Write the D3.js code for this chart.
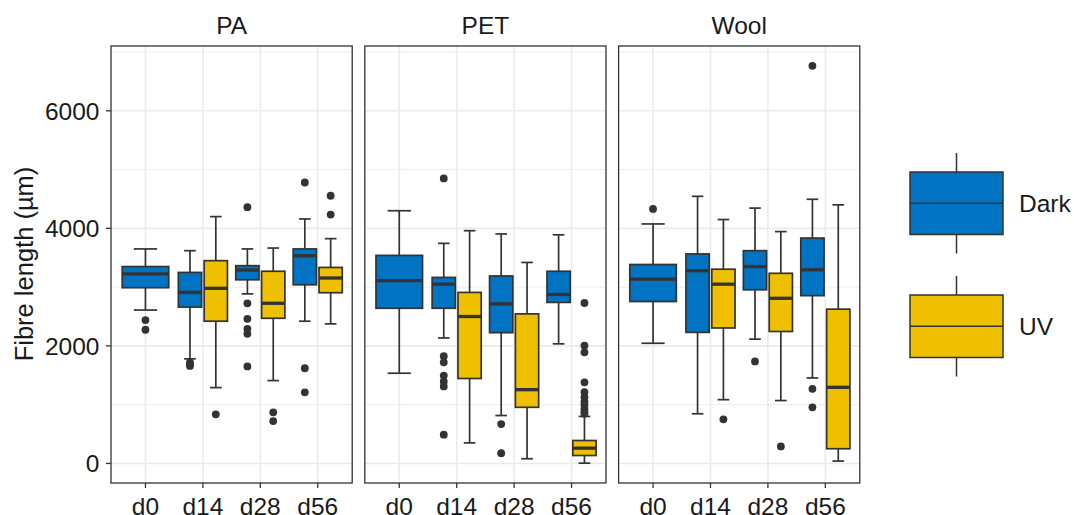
<!DOCTYPE html>
<html>
<head>
<meta charset="utf-8">
<script src="https://cdn.jsdelivr.net/npm/d3@7/dist/d3.min.js"></script>
<style>
  body { margin: 0; background: #fff; }
  svg { display: block; font-family: "Liberation Sans", Arial, sans-serif; }
</style>
</head>
<body>
<svg id="chart" width="1074" height="515"></svg>
<script>
var materials = ["PA", "PET", "Wool"];
var days = ["d0", "d14", "d28", "d56"];
var conditions = ["Dark", "UV"];
var colours = ["#0073C2", "#EFC000"];
var yMajor = [0, 2000, 4000, 6000];
var yMinor = [1000, 3000, 5000, 7000];

// [material, day, condition, lower whisker, q1, median, q3, upper whisker]
var boxStats = [
  ["PA", "d0", "Dark", 2610, 2990, 3225, 3350, 3650],
  ["PA", "d14", "Dark", 1780, 2660, 2910, 3250, 3620],
  ["PA", "d14", "UV", 1290, 2420, 2980, 3450, 4200],
  ["PA", "d28", "Dark", 2885, 3125, 3290, 3365, 3650],
  ["PA", "d28", "UV", 1410, 2470, 2725, 3270, 3665],
  ["PA", "d56", "Dark", 2420, 3040, 3535, 3650, 4160],
  ["PA", "d56", "UV", 2375, 2905, 3155, 3335, 3825],
  ["PET", "d0", "Dark", 1535, 2640, 3110, 3540, 4300],
  ["PET", "d14", "Dark", 2135, 2640, 3050, 3165, 3745],
  ["PET", "d14", "UV", 350, 1445, 2500, 2910, 3960],
  ["PET", "d28", "Dark", 815, 2225, 2715, 3190, 3905],
  ["PET", "d28", "UV", 80, 955, 1255, 2545, 3420],
  ["PET", "d56", "Dark", 2035, 2740, 2875, 3270, 3890],
  ["PET", "d56", "UV", 5, 135, 260, 390, 800],
  ["Wool", "d0", "Dark", 2045, 2755, 3135, 3385, 4075],
  ["Wool", "d14", "Dark", 845, 2230, 3280, 3565, 4545],
  ["Wool", "d14", "UV", 1085, 2305, 3050, 3305, 4150],
  ["Wool", "d28", "Dark", 2115, 2955, 3350, 3620, 4345],
  ["Wool", "d28", "UV", 1070, 2245, 2810, 3235, 3945],
  ["Wool", "d56", "Dark", 1455, 2855, 3295, 3835, 4495],
  ["Wool", "d56", "UV", 40, 250, 1295, 2625, 4400]
];

// [material, day, condition, outlier values]
var outliers = [
  ["PA", "d0", "Dark", [2440, 2275]],
  ["PA", "d14", "Dark", [1720, 1690, 1660]],
  ["PA", "d14", "UV", [835]],
  ["PA", "d28", "Dark", [4360, 2725, 2460, 2290, 2205, 1650]],
  ["PA", "d28", "UV", [870, 720]],
  ["PA", "d56", "Dark", [4780, 1620, 1210]],
  ["PA", "d56", "UV", [4555, 4235]],
  ["PET", "d14", "Dark", [4850, 1825, 1720, 1495, 1395, 1310, 490]],
  ["PET", "d28", "Dark", [670, 175]],
  ["PET", "d56", "UV", [2730, 2005, 1890, 1380, 1215, 1130, 1050, 1000, 930, 880, 845]],
  ["Wool", "d0", "Dark", [4330]],
  ["Wool", "d14", "UV", [750]],
  ["Wool", "d28", "Dark", [1735]],
  ["Wool", "d28", "UV", [290]],
  ["Wool", "d56", "Dark", [6765, 1270, 955]]
];

var svg = d3.select("#chart");
var panelLeft = 111;
var panelW = 241.2;
var panelGap = 12.6;
var panelTop = 46;
var panelBottom = 483;
var ink = "#333333";
var grid = "#EBEBEB";
var fs = 24.5;

// y range from data with 5% expansion, like ggplot
var allVals = [];
boxStats.forEach(function (b) { allVals.push(b[3], b[7]); });
outliers.forEach(function (o) { allVals = allVals.concat(o[3]); });
var lo = d3.min(allVals), hi = d3.max(allVals);
var pad = (hi - lo) * 0.05;
var y = d3.scaleLinear().domain([lo - pad, hi + pad]).range([panelBottom, panelTop]);

var x = d3.scaleLinear().domain([-0.6, days.length - 0.4]).range([0, panelW]);
var step = x(1) - x(0);

function tr(a, b) {
  return "translate(" + a + "," + b + ")";
}

function condCount(mat, day) {
  return boxStats.filter(function (b) { return b[0] === mat && b[1] === day; }).length;
}

function boxGeom(mat, day, cond) {
  var n = condCount(mat, day);
  var c = x(days.indexOf(day));
  if (n === 1) return { cx: c, w: 0.81 * step };
  var off = cond === "Dark" ? -0.225 : 0.225;
  return { cx: c + off * step, w: 0.405 * step };
}

materials.forEach(function (mat, mi) {
  var px = panelLeft + mi * (panelW + panelGap);
  var g = svg.append("g").attr("transform", tr(px, 0));

  // grid
  g.selectAll(".minor").data(yMinor).enter().append("line")
    .attr("x1", 0).attr("x2", panelW)
    .attr("y1", function (d) { return y(d); }).attr("y2", function (d) { return y(d); })
    .attr("stroke", grid).attr("stroke-width", 0.9);
  g.selectAll(".major").data(yMajor).enter().append("line")
    .attr("x1", 0).attr("x2", panelW)
    .attr("y1", function (d) { return y(d); }).attr("y2", function (d) { return y(d); })
    .attr("stroke", grid).attr("stroke-width", 1.6);
  g.selectAll(".vgrid").data(days).enter().append("line")
    .attr("x1", function (d, i) { return x(i); }).attr("x2", function (d, i) { return x(i); })
    .attr("y1", panelTop).attr("y2", panelBottom)
    .attr("stroke", grid).attr("stroke-width", 1.6);

  var rows = boxStats.filter(function (b) { return b[0] === mat; });
  rows.forEach(function (b) {
    var geo = boxGeom(b[0], b[1], b[2]);
    var col = colours[conditions.indexOf(b[2])];
    var bg = g.append("g");
    var cap = geo.w / 2;
    // whiskers + caps
    bg.append("line").attr("x1", geo.cx).attr("x2", geo.cx)
      .attr("y1", y(b[3])).attr("y2", y(b[4])).attr("stroke", ink).attr("stroke-width", 1.7);
    bg.append("line").attr("x1", geo.cx).attr("x2", geo.cx)
      .attr("y1", y(b[6])).attr("y2", y(b[7])).attr("stroke", ink).attr("stroke-width", 1.7);
    [b[3], b[7]].forEach(function (v) {
      bg.append("line").attr("x1", geo.cx - cap / 2).attr("x2", geo.cx + cap / 2)
        .attr("y1", y(v)).attr("y2", y(v)).attr("stroke", ink).attr("stroke-width", 1.7);
    });
    bg.append("rect")
      .attr("x", geo.cx - geo.w / 2).attr("width", geo.w)
      .attr("y", y(b[6])).attr("height", y(b[4]) - y(b[6]))
      .attr("fill", col).attr("stroke", ink).attr("stroke-width", 1.7);
    bg.append("line").attr("x1", geo.cx - geo.w / 2).attr("x2", geo.cx + geo.w / 2)
      .attr("y1", y(b[5])).attr("y2", y(b[5])).attr("stroke", ink).attr("stroke-width", 3.3);
  });

  outliers.filter(function (o) { return o[0] === mat; }).forEach(function (o) {
    var geo = boxGeom(o[0], o[1], o[2]);
    g.selectAll(null).data(o[3]).enter().append("circle")
      .attr("cx", geo.cx).attr("cy", function (d) { return y(d); })
      .attr("r", 3.9).attr("fill", ink);
  });

  // border
  g.append("rect").attr("x", 0).attr("y", panelTop).attr("width", panelW)
    .attr("height", panelBottom - panelTop).attr("fill", "none")
    .attr("stroke", ink).attr("stroke-width", 1.3);

  // strip title
  g.append("text").attr("x", panelW / 2).attr("y", 33.5)
    .attr("text-anchor", "middle").attr("font-size", fs).attr("fill", "#1a1a1a").text(mat);

  // x axis
  var xa = g.append("g").attr("transform", tr(0, panelBottom));
  xa.selectAll("line").data(days).enter().append("line")
    .attr("x1", function (d, i) { return x(i); }).attr("x2", function (d, i) { return x(i); })
    .attr("y1", 0).attr("y2", 5).attr("stroke", ink).attr("stroke-width", 1.3);
  xa.selectAll("text").data(days).enter().append("text")
    .attr("x", function (d, i) { return x(i); }).attr("y", 31.5)
    .attr("text-anchor", "middle").attr("font-size", fs).attr("fill", "#1a1a1a")
    .text(function (d) { return d; });
});

// y axis on first panel
var ya = svg.append("g").attr("transform", tr(panelLeft, 0));
ya.selectAll("line").data(yMajor).enter().append("line")
  .attr("x1", -5).attr("x2", 0)
  .attr("y1", function (d) { return y(d); }).attr("y2", function (d) { return y(d); })
  .attr("stroke", ink).attr("stroke-width", 1.3);
ya.selectAll("text").data(yMajor).enter().append("text")
  .attr("x", -11.5).attr("y", function (d) { return y(d); }).attr("dy", "0.36em")
  .attr("text-anchor", "end").attr("font-size", fs).attr("fill", "#1a1a1a")
  .text(function (d) { return d; });

svg.append("text").attr("transform", tr(33, 264) + " rotate(-90)")
  .attr("text-anchor", "middle").attr("font-size", 25.5).attr("fill", "#1a1a1a")
  .text("Fibre length (\u00b5m)");

// legend
var legendTop = [172, 295];
conditions.forEach(function (c, i) {
  var lg = svg.append("g").attr("transform", tr(910, legendTop[i]));
  var kw = 93, kh = 62.5;
  lg.append("line").attr("x1", kw / 2).attr("x2", kw / 2).attr("y1", -19).attr("y2", kh + 19)
    .attr("stroke", ink).attr("stroke-width", 1.5);
  lg.append("rect").attr("width", kw).attr("height", kh)
    .attr("fill", colours[i]).attr("stroke", ink).attr("stroke-width", 1.5);
  lg.append("line").attr("x1", 0).attr("x2", kw).attr("y1", kh / 2).attr("y2", kh / 2)
    .attr("stroke", ink).attr("stroke-width", 1.5);
  lg.append("text").attr("x", 109).attr("y", kh / 2).attr("dy", "0.36em")
    .attr("font-size", fs).attr("fill", "#1a1a1a").text(c);
});
</script>
</body>
</html>
